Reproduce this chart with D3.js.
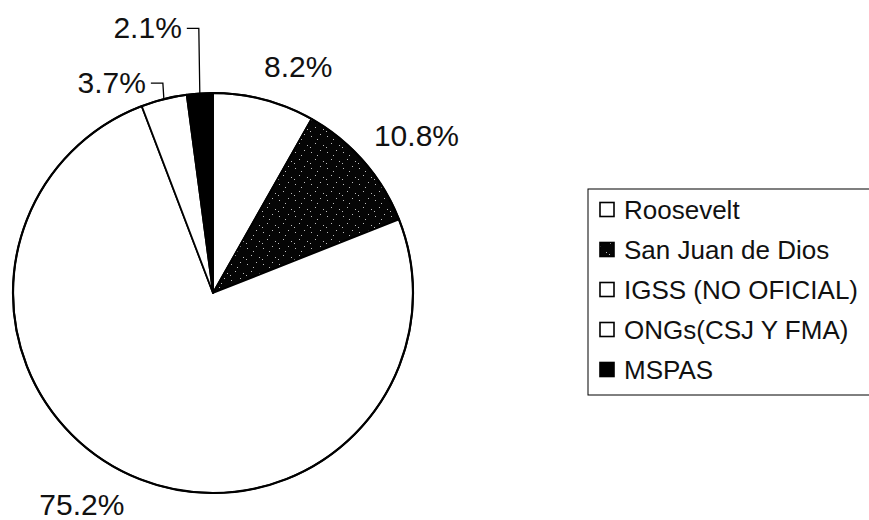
<!DOCTYPE html>
<html>
<head>
<meta charset="utf-8">
<script src="https://cdn.jsdelivr.net/npm/d3@7"></script>
<style>
  html, body { margin: 0; padding: 0; background: #fff; }
  svg { display: block; font-family: "Liberation Sans", Arial, Helvetica, sans-serif; }
</style>
</head>
<body>
<svg id="chart" width="869" height="520"></svg>
<script>
// ---- data ----
const categories = ["Roosevelt", "San Juan de Dios", "IGSS (NO OFICIAL)", "ONGs(CSJ Y FMA)", "MSPAS"];
const values = [8.2, 10.8, 75.2, 3.7, 2.1];
const labels = ["8.2%", "10.8%", "75.2%", "3.7%", "2.1%"];

// ---- style config ----
const fills = ["#ffffff", "url(#speckle)", "#ffffff", "#ffffff", "#000000"];
const leaderRise = [0, 0, 0, 16, 65];   // 0 = no leader line

const W = 869, H = 520;
const cx = 213, cy = 293, R = 200;

const svg = d3.select("#chart");
const defs = svg.append("defs");
const pat = defs.append("pattern")
  .attr("id", "speckle").attr("patternUnits", "userSpaceOnUse")
  .attr("width", 16).attr("height", 16);
pat.append("rect").attr("width", 16).attr("height", 16).attr("fill", "#050505");
[[2,3],[11,1],[6,10],[14,12],[8,6],[1,14]].forEach(([x,y]) => {
  pat.append("rect").attr("x", x).attr("y", y).attr("width", 1).attr("height", 1).attr("fill", "#bdbdbd");
});

const pie = d3.pie().sort(null).value(d => d)(values);
const arc = d3.arc().innerRadius(0).outerRadius(R);

const g = svg.append("g").attr("transform", `translate(${cx},${cy})`);
g.selectAll("path.slice")
  .data(pie)
  .join("path")
  .attr("class", "slice")
  .attr("d", arc)
  .attr("fill", (d, i) => fills[i])
  .attr("stroke", "#000")
  .attr("stroke-width", 1.8)
  .attr("stroke-linejoin", "round");

// outer outline
g.append("circle").attr("r", R).attr("fill", "none").attr("stroke", "#000").attr("stroke-width", 2.2);

// labels
pie.forEach((d, i) => {
  const a = (d.startAngle + d.endAngle) / 2;
  const s = Math.sin(a), c = Math.cos(a);
  if (leaderRise[i] > 0) {
    const ex = cx + R * s, ey = cy - R * c;
    const ty = ey - leaderRise[i];
    const hx = ex - 13;
    svg.append("path")
      .attr("d", `M${ex},${ey}L${ex - 1},${ty}L${hx},${ty}`)
      .attr("fill", "none").attr("stroke", "#000").attr("stroke-width", 1.3);
    svg.append("text")
      .attr("x", hx - 5).attr("y", ty + 10)
      .attr("text-anchor", "end")
      .attr("font-size", 30).attr("fill", "#111")
      .text(labels[i]);
  } else {
    const px = cx + 220 * s, py = cy - 220 * c;
    svg.append("text")
      .attr("x", s > 0 ? px - 5 : px)
      .attr("y", c > 0 ? py - 3 : py + 21)
      .attr("text-anchor", s > 0 ? "start" : "end")
      .attr("font-size", 30).attr("fill", "#111")
      .text(labels[i]);
  }
});

// legend
const lx = 588, ly = 189, rowH = 40;
svg.append("rect")
  .attr("x", lx).attr("y", ly).attr("width", 300).attr("height", 206)
  .attr("fill", "none").attr("stroke", "#000").attr("stroke-width", 1);
const leg = svg.append("g");
categories.forEach((name, i) => {
  const yc = ly + 21 + i * rowH;
  leg.append("rect")
    .attr("x", lx + 12).attr("y", yc - 7.5).attr("width", 14).attr("height", 14)
    .attr("fill", fills[i]).attr("stroke", "#000").attr("stroke-width", 1.6);
  leg.append("text")
    .attr("x", lx + 36).attr("y", yc + 9)
    .attr("font-size", 26).attr("fill", "#111")
    .text(name);
});
</script>
</body>
</html>
